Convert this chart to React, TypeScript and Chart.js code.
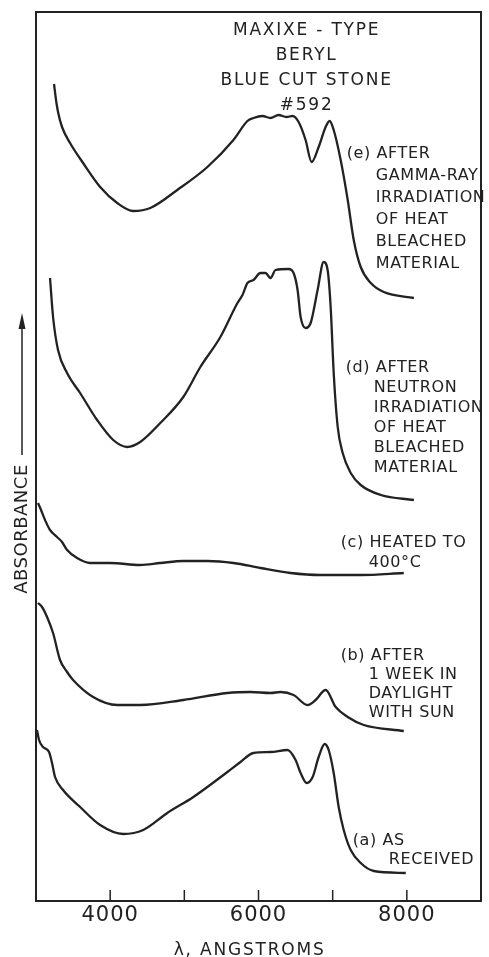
import React, { useEffect, useRef } from "react";
import { Chart, registerables } from "chart.js";

Chart.register(...registerables);

// ---- Data (wavelength in Å, relative absorbance, curves offset vertically) ----
const WAVE_E = [3243, 3270, 3297, 3351, 3459, 3635, 3865, 4095, 4311, 4541, 4905, 5311, 5662, 5851, 5932, 6054, 6162, 6270, 6378, 6460, 6541, 6635, 6716, 6811, 6905, 6959, 7014, 7108, 7203, 7284, 7378, 7514, 7689, 8095];
const ABS_E = [81.7, 80.1, 78.9, 77.4, 75.8, 73.8, 71.4, 69.8, 69.0, 69.3, 71.1, 73.4, 76.1, 78.0, 78.3, 78.5, 78.3, 78.6, 78.4, 78.5, 77.9, 76.1, 73.9, 75.4, 77.4, 78.0, 77.1, 74.1, 70.1, 66.1, 63.4, 61.8, 60.9, 60.3];

const WAVE_D = [3189, 3230, 3297, 3419, 3595, 3824, 4041, 4230, 4405, 4676, 4986, 5216, 5486, 5716, 5784, 5851, 5932, 6027, 6095, 6162, 6230, 6405, 6473, 6527, 6568, 6635, 6703, 6797, 6878, 6932, 6973, 7014, 7068, 7135, 7243, 7378, 7649, 8095];
const ABS_D = [62.3, 58.4, 55.1, 52.8, 50.8, 48.1, 46.1, 45.4, 45.9, 47.8, 50.4, 53.4, 56.4, 59.8, 60.6, 61.8, 62.1, 62.8, 62.8, 62.3, 63.1, 63.2, 62.8, 61.1, 58.4, 57.3, 57.8, 61.1, 63.9, 63.1, 59.4, 52.8, 47.4, 44.8, 42.8, 41.6, 40.6, 40.1];

const WAVE_C = [3027, 3068, 3122, 3189, 3284, 3351, 3419, 3554, 3730, 4000, 4405, 4676, 4986, 5311, 5662, 6027, 6432, 6838, 7378, 7959];
const ABS_C = [39.8, 39.1, 38.1, 37.1, 36.4, 35.9, 35.1, 34.3, 33.8, 33.8, 33.6, 33.8, 34.0, 34.0, 33.8, 33.3, 32.8, 32.6, 32.6, 32.8];

const WAVE_B = [3027, 3081, 3149, 3230, 3324, 3419, 3500, 3770, 4095, 4405, 4986, 5581, 5892, 6162, 6297, 6473, 6662, 6770, 6905, 7041, 7203, 7419, 7959];
const ABS_B = [29.8, 29.4, 28.4, 26.8, 24.1, 22.9, 22.1, 20.4, 19.6, 19.6, 20.1, 20.8, 20.9, 20.8, 20.9, 20.6, 19.6, 20.1, 21.1, 19.4, 18.4, 17.6, 17.0];

const WAVE_A = [3013, 3041, 3095, 3176, 3216, 3257, 3365, 3595, 3865, 4176, 4446, 4770, 5122, 5581, 5757, 5932, 6162, 6392, 6500, 6568, 6649, 6730, 6811, 6892, 6946, 7014, 7081, 7149, 7243, 7378, 7554, 7986];
const ABS_A = [17.1, 16.1, 15.4, 14.9, 13.8, 12.4, 11.1, 9.4, 7.6, 6.7, 7.1, 8.8, 10.4, 12.9, 13.9, 14.8, 14.9, 15.1, 14.1, 12.8, 11.8, 12.4, 14.4, 15.7, 15.1, 12.8, 9.4, 7.1, 5.1, 3.8, 3.0, 2.8];

const X_MIN = 3000;
const X_MAX = 9000;
const X_STEP = 1000;
const LABELLED_TICKS = [4000, 6000, 8000];
const X_TITLE = "λ, ANGSTROMS";
const Y_TITLE = "ABSORBANCE";

const TITLE_LINES = ["MAXIXE - TYPE", "BERYL", "BLUE CUT STONE", "#592"];

// curve labels: text, anchor wavelength, anchor absorbance (left/baseline)
const LABEL_TEXT = [
  "(e) AFTER", "GAMMA-RAY", "IRRADIATION", "OF HEAT", "BLEACHED", "MATERIAL",
  "(d) AFTER", "NEUTRON", "IRRADIATION", "OF HEAT", "BLEACHED", "MATERIAL",
  "(c) HEATED TO", "400°C",
  "(b) AFTER", "1 WEEK IN", "DAYLIGHT", "WITH SUN",
  "(a) AS", "RECEIVED",
];
const LABEL_X = [
  7189, 7581, 7581, 7581, 7581, 7581,
  7176, 7554, 7554, 7554, 7554, 7554,
  7108, 7486,
  7108, 7486, 7486, 7486,
  7270, 7757,
];
const LABEL_Y = [
  74.3, 72.1, 69.9, 67.7, 65.5, 63.3,
  52.9, 50.9, 48.9, 46.9, 44.9, 42.9,
  35.4, 33.4,
  24.1, 22.2, 20.3, 18.4,
  5.6, 3.7,
];

const INK = "#222222";
const FONT = '"DejaVu Sans", sans-serif';

const toPoints = (xs: number[], ys: number[]) => xs.map((x, i) => ({ x, y: ys[i] }));

const figurePlugin = {
  id: "figureText",
  afterDraw(chart: any) {
    const { ctx, chartArea: a, scales } = chart;
    const xs = scales.x;
    const ys = scales.y;
    ctx.save();
    ctx.fillStyle = INK;
    ctx.strokeStyle = INK;

    // frame
    ctx.lineWidth = 2;
    ctx.strokeRect(a.left, a.top, a.right - a.left, a.bottom - a.top);

    // inward tick marks
    ctx.lineWidth = 1.5;
    xs.ticks.forEach((t: any) => {
      if (t.value <= xs.min || t.value >= xs.max) return;
      const px = xs.getPixelForValue(t.value);
      ctx.beginPath();
      ctx.moveTo(px, a.bottom);
      ctx.lineTo(px, a.bottom - 11);
      ctx.stroke();
    });

    // tick labels
    ctx.textBaseline = "alphabetic";
    ctx.textAlign = "center";
    ctx.font = `21px ${FONT}`;
    (ctx as any).letterSpacing = "1px";
    xs.ticks.forEach((t: any) => {
      if (!LABELLED_TICKS.includes(t.value)) return;
      ctx.fillText(String(t.value), xs.getPixelForValue(t.value), a.bottom + 20);
    });

    // x title
    ctx.font = `17px ${FONT}`;
    (ctx as any).letterSpacing = "1.8px";
    ctx.fillText(X_TITLE, xs.getPixelForValue(5880), a.bottom + 54);

    // main title block
    const titleX = xs.getPixelForValue(6649);
    TITLE_LINES.forEach((line, i) => {
      ctx.fillText(line, titleX, ys.getPixelForValue(86.6) + i * 25);
    });

    // curve labels
    ctx.textAlign = "left";
    ctx.font = `16px ${FONT}`;
    (ctx as any).letterSpacing = "0.6px";
    LABEL_TEXT.forEach((txt, i) => {
      ctx.fillText(txt, xs.getPixelForValue(LABEL_X[i]), ys.getPixelForValue(LABEL_Y[i]));
    });

    // y title with arrow
    const ax = a.left - 14;
    ctx.save();
    ctx.translate(ax, ys.getPixelForValue(37.2));
    ctx.rotate(-Math.PI / 2);
    ctx.textAlign = "center";
    ctx.textBaseline = "middle";
    ctx.font = `18px ${FONT}`;
    (ctx as any).letterSpacing = "0.5px";
    ctx.fillText(Y_TITLE, 0, 0);
    ctx.restore();

    const arrowBottom = ys.getPixelForValue(44.6);
    const arrowTip = ys.getPixelForValue(58.8);
    ctx.lineWidth = 1.5;
    ctx.beginPath();
    ctx.moveTo(ax, arrowBottom);
    ctx.lineTo(ax, arrowTip + 10);
    ctx.stroke();
    ctx.beginPath();
    ctx.moveTo(ax, arrowTip);
    ctx.lineTo(ax - 3.5, arrowTip + 16);
    ctx.lineTo(ax + 3.5, arrowTip + 16);
    ctx.closePath();
    ctx.fill();

    ctx.restore();
  },
};

export default function App() {
  const canvasRef = useRef<HTMLCanvasElement | null>(null);

  useEffect(() => {
    const canvas = canvasRef.current;
    if (!canvas) return;
    const series = [
      toPoints(WAVE_E, ABS_E),
      toPoints(WAVE_D, ABS_D),
      toPoints(WAVE_C, ABS_C),
      toPoints(WAVE_B, ABS_B),
      toPoints(WAVE_A, ABS_A),
    ];
    const chart = new Chart(canvas, {
      type: "line",
      data: {
        datasets: series.map((data, i) => ({
          label: ["e", "d", "c", "b", "a"][i],
          data,
          borderColor: INK,
          borderWidth: 2.3,
          pointRadius: 0,
          fill: false,
          cubicInterpolationMode: "monotone" as const,
        })),
      },
      options: {
        responsive: false,
        devicePixelRatio: 1,
        animation: false,
        parsing: false as any,
        layout: { padding: { left: 36, right: 8, top: 12, bottom: 56 } },
        plugins: { legend: { display: false }, tooltip: { enabled: false } },
        scales: {
          x: {
            type: "linear",
            display: false,
            min: X_MIN,
            max: X_MAX,
            ticks: { stepSize: X_STEP },
          },
          y: { type: "linear", display: false, min: 0, max: 88.9 },
        },
      },
      plugins: [figurePlugin],
    });
    return () => chart.destroy();
  }, []);

  return (
    <div style={{ position: "absolute", left: 0, top: 0, width: 489, height: 957, background: "#fff" }}>
      <canvas ref={canvasRef} width={489} height={957} style={{ display: "block", width: 489, height: 957 }} />
    </div>
  );
}
